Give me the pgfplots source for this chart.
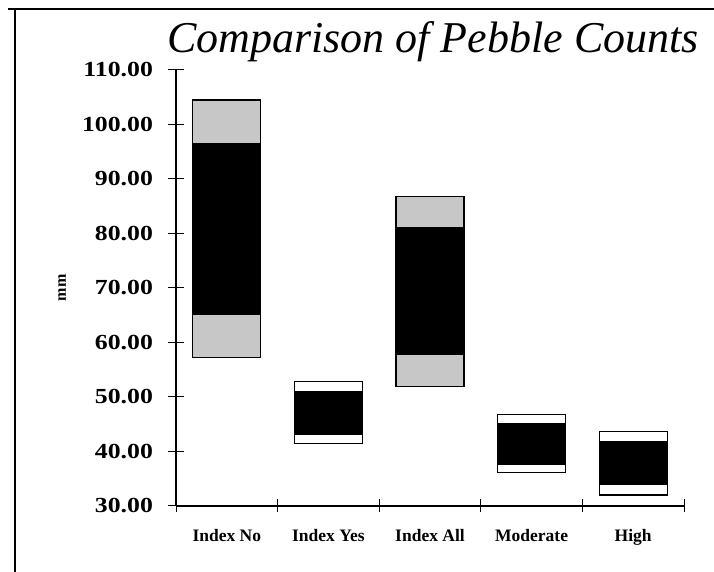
\documentclass[border=0pt]{standalone}
\usepackage{pgfplots}
\pgfplotsset{compat=1.18}
\usepackage{fontspec}
\setmainfont{Liberation Serif}
\newfontfamily\tickfont{Liberation Serif}[FakeStretch=1.2]
\begin{document}
\begin{tikzpicture}
\path[use as bounding box] (0,0) rectangle (714pt,572pt);
\draw[line width=1.6pt] (8pt,563pt) -- (714pt,563pt);
\draw[line width=1.2pt] (15pt,563pt) -- (15pt,0pt);
\node[anchor=base, font=\fontsize{44}{48}\selectfont\itshape] at (433pt,519pt) {Comparison of Pebble Counts};
\begin{axis}[
  at={(176pt,66pt)}, anchor=south west,
  scale only axis, width=508pt, height=436pt,
  xmin=-0.5, xmax=4.5, ymin=30, ymax=110,
  ytick={30,40,50,60,70,80,90,100,110},
  xtick={0,1,2,3,4},
  xticklabels={Index No, Index Yes, Index All, Moderate, High},
  minor xtick={-0.5,0.5,1.5,2.5,3.5,4.5},
  major x tick style={draw=none},
  tick align=center,
  major tick length=15pt, minor tick length=13pt,
  tick style={black, line width=1pt},
  axis x line=bottom, axis y line=left,
  axis line style={-, line width=1.3pt},
  yticklabel style={font=\tickfont\bfseries\fontsize{21.5}{21.5}\selectfont, xshift=-12pt,
    /pgf/number format/.cd, fixed, fixed zerofill, precision=2, assume math mode=true},
  xticklabel style={font=\bfseries\fontsize{17.5}{17.5}\selectfont, yshift=-12pt},
  ylabel={mm},
  ylabel style={at={(axis description cs:-0.2244,0.5)}, anchor=center, rotate=0, font=\bfseries\fontsize{16}{16}\selectfont},
  ybar stacked, bar width=68pt,
  clip=false,
]
% base (invisible): minimum
\addplot[draw=none, fill=none] coordinates {(0,57.2) (1,41.4) (2,51.9) (3,36.1) (4,32.0)};
% lower segment (stippled, large bars)
\addplot[draw=black, line width=1.2pt, fill=black!22] coordinates {(0,8.0) (1,0) (2,5.9) (3,0) (4,0)};
% lower segment (white, small bars)
\addplot[draw=black, line width=1.2pt, fill=white] coordinates {(0,0) (1,1.7) (2,0) (3,1.5) (4,1.9)};
% middle segment (black)
\addplot[draw=black, line width=1.2pt, fill=black] coordinates {(0,31.3) (1,7.9) (2,23.3) (3,7.5) (4,7.9)};
% upper segment (stippled, large bars)
\addplot[draw=black, line width=1.2pt, fill=black!22] coordinates {(0,8.0) (1,0) (2,5.7) (3,0) (4,0)};
% upper segment (white, small bars)
\addplot[draw=black, line width=1.2pt, fill=white] coordinates {(0,0) (1,1.8) (2,0) (3,1.7) (4,1.8)};
\end{axis}
\end{tikzpicture}
\end{document}
